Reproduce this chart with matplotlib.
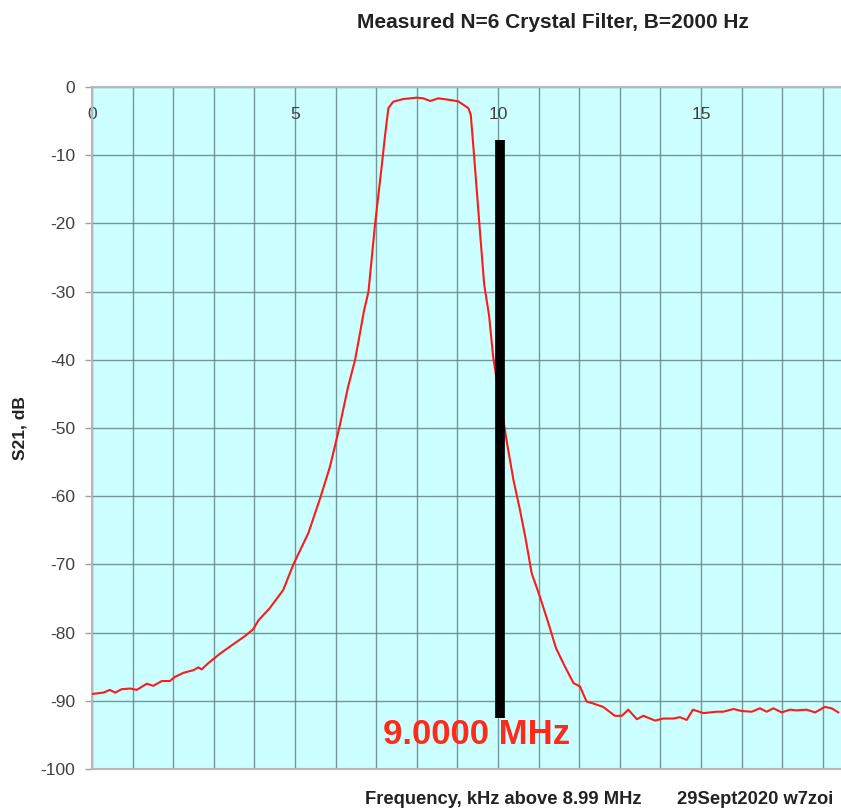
import matplotlib
matplotlib.use("Agg")
import matplotlib.pyplot as plt
from matplotlib.ticker import MultipleLocator, FuncFormatter

plt.rcParams['font.family'] = ['Liberation Sans', 'DejaVu Sans']
plt.rcParams['axes.unicode_minus'] = False

freq_khz = [0.0, 0.28, 0.44, 0.57, 0.73, 0.94, 1.10, 1.35, 1.51, 1.72, 1.92, 2.04,
            2.25, 2.50, 2.62, 2.70, 2.86, 3.15, 3.48, 3.77, 3.97, 4.10, 4.38, 4.71,
            4.96, 5.33, 5.63, 5.86, 6.09, 6.31, 6.48, 6.60, 6.70, 6.81, 6.97, 7.13,
            7.22, 7.30, 7.42, 7.67, 8.00, 8.16, 8.33, 8.53, 8.82, 9.02, 9.27, 9.33,
            9.41, 9.54, 9.66, 9.78, 9.88, 9.97, 10.05, 10.13, 10.21, 10.38, 10.54,
            10.67, 10.83, 11.03, 11.24, 11.43, 11.65, 11.86, 12.02, 12.18, 12.35,
            12.59, 12.88, 13.05, 13.21, 13.42, 13.58, 13.87, 14.07, 14.32, 14.48,
            14.65, 14.80, 15.06, 15.39, 15.55, 15.80, 16.00, 16.25, 16.45, 16.62,
            16.78, 16.99, 17.19, 17.36, 17.60, 17.81, 18.05, 18.22, 18.38]
s21_db = [-89.0, -88.8, -88.4, -88.8, -88.3, -88.2, -88.4, -87.5, -87.8, -87.1, -87.1, -86.5,
          -85.9, -85.5, -85.1, -85.4, -84.5, -83.1, -81.7, -80.5, -79.5, -78.2, -76.4, -73.75,
          -70.0, -65.4, -60.1, -55.7, -50.0, -43.9, -40.0, -36.1, -32.8, -30.0, -20.2, -11.9,
          -7.0, -3.1, -2.15, -1.76, -1.56, -1.66, -2.05, -1.66, -1.9, -2.1, -3.1, -4.1,
          -10.0, -20.0, -29.0, -33.5, -39.5, -43.0, -46.0, -48.8, -51.8, -57.6, -62.0,
          -65.9, -71.3, -74.7, -78.6, -82.3, -85.0, -87.4, -87.9, -90.1, -90.4,
          -90.9, -92.2, -92.2, -91.3, -92.7, -92.2, -92.9, -92.6, -92.6, -92.4,
          -92.8, -91.3, -91.8, -91.6, -91.6, -91.2, -91.5, -91.6, -91.1, -91.6,
          -91.1, -91.7, -91.3, -91.4, -91.3, -91.7, -90.9, -91.1, -91.7]

# 9.0000 MHz marker
marker_khz = 10.05
marker_top, marker_bottom = -7.8, -92.5

fig = plt.figure(figsize=(8.41, 8.10), dpi=100)
ax = fig.add_axes([92/841, 1 - 769/810, 1 - 92/841, (769 - 87)/810])
ax.set_facecolor('#ccffff')

ax.plot(freq_khz, s21_db, color='#ff1a1a', lw=1.5, zorder=3)
ax.vlines(marker_khz, marker_bottom, marker_top, color='black', lw=7, zorder=4)
ax.text(7.16, -94.9, '9.0000 MHz', color='#ff2a1a', fontsize=25, fontweight='bold',
        ha='left', va='center', zorder=5)

ax.set_xlim(0, (841 - 92)/40.6)
ax.set_ylim(-100, 0)
ax.xaxis.set_major_locator(MultipleLocator(1))
ax.xaxis.set_major_formatter(FuncFormatter(lambda v, p: f'{v:.0f}' if round(v) % 5 == 0 else ''))
ax.yaxis.set_major_locator(MultipleLocator(10))

ax.grid(True, color='#5d7f7f', lw=1.0, alpha=0.8)
ax.set_axisbelow(True)

ax.tick_params(axis='x', top=True, bottom=False, labeltop=True, labelbottom=False,
               length=0, pad=-25, labelsize=12.5, labelcolor='#404040')
ax.tick_params(axis='y', direction='out', length=5, width=1, color='#a0a0a0',
               pad=7, labelsize=12.5, labelcolor='#404040')

for side in ['top', 'left', 'bottom']:
    ax.spines[side].set_color('#b8b8b8')
    ax.spines[side].set_linewidth(1.5)
ax.spines['right'].set_visible(False)

fig.text(553/841, 1 - 22/810, 'Measured N=6 Crystal Filter, B=2000 Hz', fontsize=15,
         fontweight='bold', color='#222222', ha='center', va='center')
fig.text(20/841, 1 - 428/810, 'S21, dB', rotation=90, fontsize=12.5, fontweight='bold',
         color='#222222', ha='center', va='center')
fig.text(365/841, 1 - 800/810, 'Frequency, kHz above 8.99 MHz', fontsize=13.2,
         fontweight='bold', color='#222222', ha='left', va='center')
fig.text(677/841, 1 - 800/810, '29Sept2020 w7zoi', fontsize=13.2,
         fontweight='bold', color='#222222', ha='left', va='center')

fig.savefig('out.png', dpi=100, facecolor='white')
